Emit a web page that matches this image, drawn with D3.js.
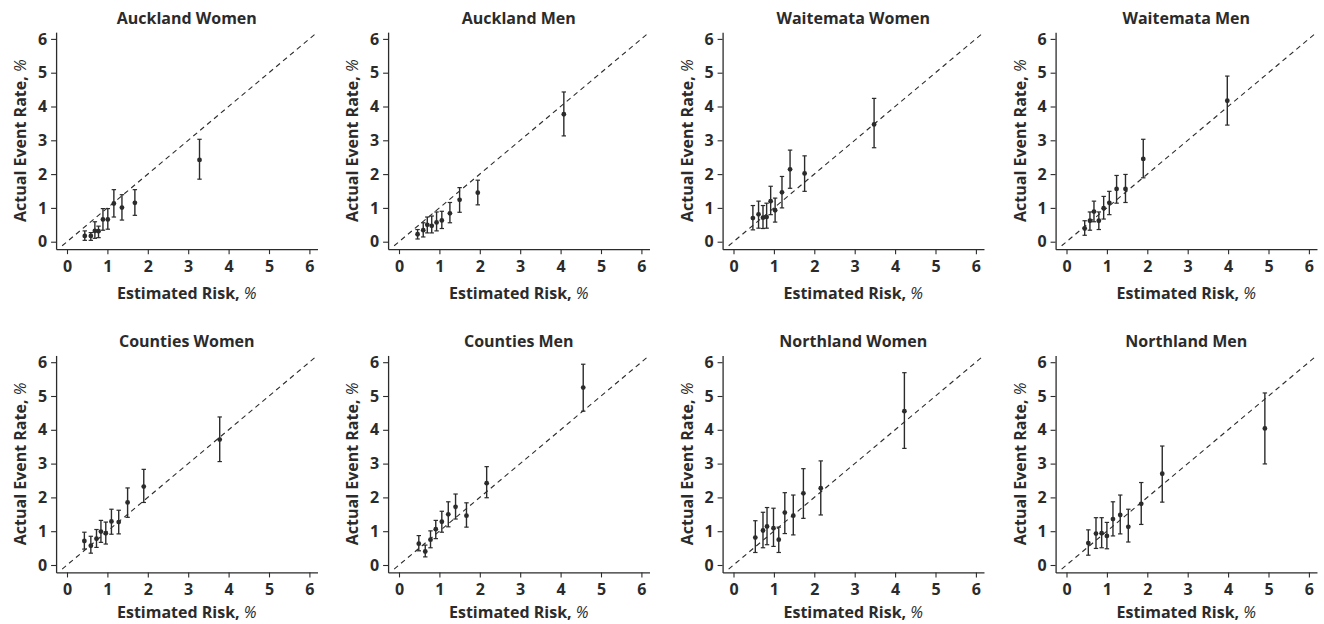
<!DOCTYPE html>
<html>
<head>
<meta charset="utf-8">
<script src="https://cdn.jsdelivr.net/npm/d3@7"></script>
<style>
  body { margin: 0; background: #fff; }
  text { font-family: "Open Sans", sans-serif; fill: #2b2b2b; }
</style>
</head>
<body>
<svg width="1324" height="624"></svg>
<script>
// panel titles, in reading order
var titles = ['Auckland Women', 'Auckland Men', 'Waitemata Women', 'Waitemata Men',
  'Counties Women', 'Counties Men', 'Northland Women', 'Northland Men'];
var ticks = [0, 1, 2, 3, 4, 5, 6];

// estimated risk (x), actual event rate (y), 95% CI low / high
var aucklandWomenEst = [0.44, 0.59, 0.69, 0.78, 0.89, 1.01, 1.16, 1.36, 1.68, 3.28];
var aucklandWomenAct = [0.17, 0.17, 0.32, 0.31, 0.66, 0.66, 1.13, 1.01, 1.15, 2.42];
var aucklandWomenLo  = [0.04, 0.04, 0.10, 0.12, 0.34, 0.37, 0.73, 0.64, 0.78, 1.85];
var aucklandWomenHi  = [0.32, 0.27, 0.59, 0.46, 0.98, 0.98, 1.54, 1.39, 1.54, 3.03];

var aucklandMenEst = [0.46, 0.60, 0.70, 0.81, 0.93, 1.06, 1.26, 1.50, 1.95, 4.08];
var aucklandMenAct = [0.22, 0.34, 0.50, 0.47, 0.57, 0.63, 0.84, 1.24, 1.45, 3.77];
var aucklandMenLo  = [0.08, 0.14, 0.26, 0.26, 0.32, 0.39, 0.56, 0.87, 1.09, 3.13];
var aucklandMenHi  = [0.36, 0.56, 0.73, 0.76, 0.88, 0.90, 1.16, 1.60, 1.82, 4.43];

var waitemataWomenEst = [0.48, 0.62, 0.73, 0.82, 0.92, 1.03, 1.20, 1.40, 1.76, 3.48];
var waitemataWomenAct = [0.70, 0.81, 0.71, 0.73, 1.20, 0.93, 1.46, 2.14, 2.02, 3.47];
var waitemataWomenLo  = [0.35, 0.40, 0.39, 0.40, 0.80, 0.58, 1.00, 1.58, 1.49, 2.78];
var waitemataWomenHi  = [1.07, 1.20, 1.07, 1.14, 1.64, 1.29, 1.93, 2.71, 2.54, 4.24];

var waitemataMenEst = [0.45, 0.58, 0.68, 0.80, 0.92, 1.06, 1.24, 1.46, 1.90, 3.98];
var waitemataMenAct = [0.39, 0.62, 0.89, 0.62, 0.99, 1.15, 1.56, 1.56, 2.45, 4.17];
var waitemataMenLo  = [0.19, 0.34, 0.59, 0.36, 0.67, 0.80, 1.14, 1.16, 1.89, 3.45];
var waitemataMenHi  = [0.62, 0.88, 1.20, 0.88, 1.34, 1.49, 1.96, 1.99, 3.03, 4.90];

var countiesWomenEst = [0.43, 0.59, 0.73, 0.84, 0.96, 1.10, 1.28, 1.50, 1.90, 3.78];
var countiesWomenAct = [0.71, 0.57, 0.78, 0.99, 0.94, 1.29, 1.27, 1.85, 2.32, 3.71];
var countiesWomenLo  = [0.47, 0.35, 0.52, 0.67, 0.62, 0.91, 0.92, 1.41, 1.85, 3.06];
var countiesWomenHi  = [0.97, 0.85, 1.05, 1.32, 1.27, 1.65, 1.62, 2.28, 2.83, 4.38];

var countiesMenEst = [0.49, 0.65, 0.78, 0.91, 1.06, 1.22, 1.40, 1.67, 2.17, 4.56];
var countiesMenAct = [0.63, 0.40, 0.75, 1.06, 1.28, 1.50, 1.72, 1.46, 2.42, 5.25];
var countiesMenLo  = [0.42, 0.24, 0.51, 0.78, 0.97, 1.13, 1.36, 1.12, 1.99, 4.55];
var countiesMenHi  = [0.87, 0.59, 1.01, 1.32, 1.59, 1.87, 2.10, 1.84, 2.91, 5.94];

var northlandWomenEst = [0.54, 0.73, 0.83, 0.99, 1.12, 1.27, 1.48, 1.73, 2.16, 4.23];
var northlandWomenAct = [0.81, 1.02, 1.14, 1.09, 0.75, 1.55, 1.46, 2.12, 2.27, 4.55];
var northlandWomenLo  = [0.37, 0.51, 0.60, 0.55, 0.37, 0.93, 0.89, 1.38, 1.48, 3.45];
var northlandWomenHi  = [1.31, 1.56, 1.70, 1.68, 1.12, 2.14, 2.07, 2.85, 3.08, 5.69];

var northlandMenEst = [0.54, 0.73, 0.87, 1.00, 1.15, 1.33, 1.53, 1.85, 2.37, 4.91];
var northlandMenAct = [0.65, 0.93, 0.94, 0.86, 1.36, 1.48, 1.13, 1.81, 2.70, 4.04];
var northlandMenLo  = [0.29, 0.49, 0.51, 0.48, 0.86, 0.92, 0.68, 1.20, 1.86, 2.99];
var northlandMenHi  = [1.04, 1.40, 1.40, 1.26, 1.87, 2.07, 1.65, 2.44, 3.52, 5.09];

var panels = [
  [aucklandWomenEst, aucklandWomenAct, aucklandWomenLo, aucklandWomenHi],
  [aucklandMenEst, aucklandMenAct, aucklandMenLo, aucklandMenHi],
  [waitemataWomenEst, waitemataWomenAct, waitemataWomenLo, waitemataWomenHi],
  [waitemataMenEst, waitemataMenAct, waitemataMenLo, waitemataMenHi],
  [countiesWomenEst, countiesWomenAct, countiesWomenLo, countiesWomenHi],
  [countiesMenEst, countiesMenAct, countiesMenLo, countiesMenHi],
  [northlandWomenEst, northlandWomenAct, northlandWomenLo, northlandWomenHi],
  [northlandMenEst, northlandMenAct, northlandMenLo, northlandMenHi]
];

var svg = d3.select('svg');
var ink = '#2b2b2b';

// where the value 0 sits in each column / row, and the pixel size of one unit
var colZero = [67, 399, 733.5, 1066.5];
var rowZero = [241.7, 565];
var xTitleGap = [50, 46];
var unitX = 40.4;
var unitY = 33.8;
var xLo = -0.27, xHi = 6.2;
var yLo = -0.22, yHi = 6.2;

panels.forEach(function(p, i) {
  var row = Math.floor(i / 4);
  var x0 = colZero[i % 4];
  var y0 = rowZero[row];

  var x = d3.scaleLinear()
    .domain([xLo, xHi])
    .range([x0 + xLo * unitX, x0 + xHi * unitX]);
  var y = d3.scaleLinear()
    .domain([yLo, yHi])
    .range([y0 - yLo * unitY, y0 - yHi * unitY]);

  var g = svg.append('g');

  var xAxis = g.append('g')
    .attr('transform', 'translate(0,' + y(yLo) + ')')
    .call(d3.axisBottom(x).tickValues(ticks).tickFormat(d3.format('d'))
      .tickSize(5).tickSizeOuter(0).tickPadding(3));
  var yAxis = g.append('g')
    .attr('transform', 'translate(' + x(xLo) + ',0)')
    .call(d3.axisLeft(y).tickValues(ticks).tickFormat(d3.format('d'))
      .tickSize(5).tickSizeOuter(0).tickPadding(4));

  [xAxis, yAxis].forEach(function(a) {
    a.select('.domain').attr('stroke', ink).attr('stroke-width', 1.3);
    a.selectAll('.tick line').attr('stroke', ink).attr('stroke-width', 1.1);
    a.selectAll('.tick text')
      .attr('fill', ink)
      .style('font-size', '16px')
      .style('font-weight', 700);
  });
  xAxis.selectAll('.tick text').attr('dy', '0.9em');

  // reference line, estimated = actual
  g.append('line')
    .attr('x1', x(-0.12)).attr('y1', y(-0.12))
    .attr('x2', x(6.2)).attr('y2', y(6.2))
    .attr('stroke', ink)
    .attr('stroke-width', 1.1)
    .attr('stroke-dasharray', '5,4');

  var rows = p[0].map(function(e, k) {
    return { est: e, act: p[1][k], lo: p[2][k], hi: p[3][k] };
  });

  var bars = g.selectAll('.err').data(rows).enter().append('g').attr('class', 'err');
  bars.append('line')
    .attr('x1', function(d) { return x(d.est); })
    .attr('x2', function(d) { return x(d.est); })
    .attr('y1', function(d) { return y(d.lo); })
    .attr('y2', function(d) { return y(d.hi); })
    .attr('stroke', ink).attr('stroke-width', 1.4);
  ['lo', 'hi'].forEach(function(k) {
    bars.append('line')
      .attr('x1', function(d) { return x(d.est) - 2.2; })
      .attr('x2', function(d) { return x(d.est) + 2.2; })
      .attr('y1', function(d) { return y(d[k]); })
      .attr('y2', function(d) { return y(d[k]); })
      .attr('stroke', ink).attr('stroke-width', 1.2);
  });
  g.selectAll('.pt').data(rows).enter().append('circle')
    .attr('class', 'pt')
    .attr('cx', function(d) { return x(d.est); })
    .attr('cy', function(d) { return y(d.act); })
    .attr('r', 2.4)
    .attr('fill', ink);

  var midX = (x(xLo) + x(xHi)) / 2;

  g.append('text')
    .attr('x', midX)
    .attr('y', y(yHi) - 8)
    .attr('text-anchor', 'middle')
    .style('font-size', '16px')
    .style('font-weight', 700)
    .text(titles[i]);

  var xl = g.append('text')
    .attr('x', midX)
    .attr('y', y(yLo) + xTitleGap[row])
    .attr('text-anchor', 'middle')
    .style('font-size', '16px')
    .style('font-weight', 700);
  xl.append('tspan').text('Estimated Risk, ');
  xl.append('tspan').style('font-style', 'italic').style('font-weight', 400).text('%');

  var yl = g.append('text')
    .attr('transform', 'translate(' + (x(xLo) - 30) + ',' + ((y(yLo) + y(yHi)) / 2) + ') rotate(-90)')
    .attr('text-anchor', 'middle')
    .style('font-size', '16px')
    .style('font-weight', 700);
  yl.append('tspan').text('Actual Event Rate, ');
  yl.append('tspan').style('font-style', 'italic').style('font-weight', 400).text('%');
});
</script>
</body>
</html>
